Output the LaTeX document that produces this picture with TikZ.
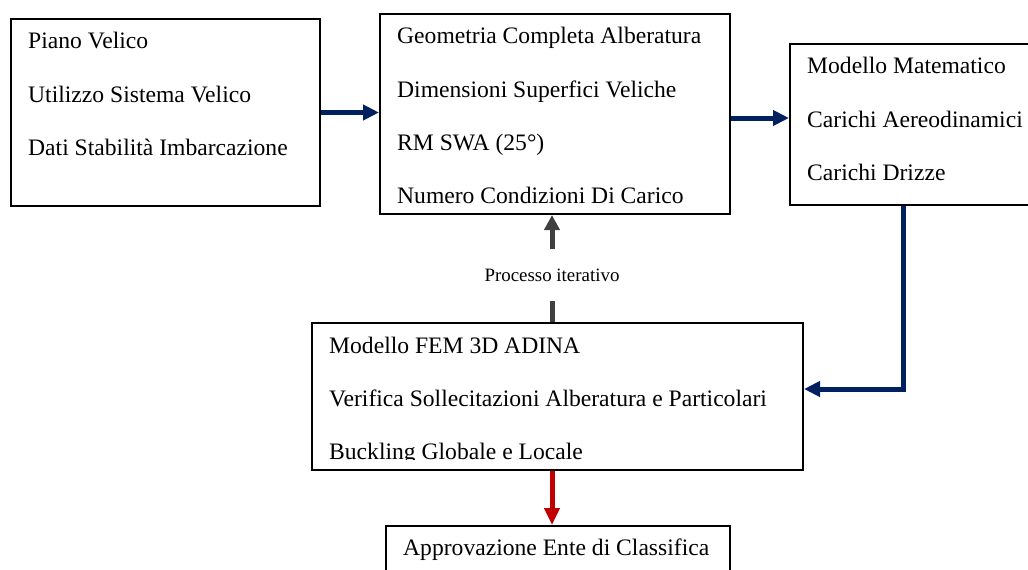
\documentclass[tikz,border=0pt]{standalone}
\usepackage{fontspec}
\setmainfont{Liberation Serif}
\usetikzlibrary{arrows.meta}
\definecolor{navyflow}{HTML}{002060}
\definecolor{iterflow}{HTML}{404040}
\definecolor{approvalflow}{HTML}{C00000}
\tikzset{
  box/.style={draw=black, line width=2pt, fill=white, anchor=north west, inner sep=0pt},
  txt/.style={anchor=base west, inner sep=0pt, font=\fontsize{23.6}{28}\selectfont},
  lbltxt/.style={inner sep=0pt, font=\fontsize{18.9}{22}\selectfont},
  flow/.style={line width=5pt, -{Triangle[length=16pt,width=15pt]}},
  navyflowline/.style={flow, draw=navyflow},
}
\begin{document}
\begin{tikzpicture}[x=1pt,y=-1pt]
\useasboundingbox (0,0) rectangle (1028,570);
\clip (0,0) rectangle (1028,570);
\fill[white] (0,0) rectangle (1028,570);

% boxes
\node[box, minimum width=309pt, minimum height=187pt] (inputs) at (10,18) {};
\node[box, minimum width=350pt, minimum height=200pt] (geom) at (379,13) {};
\node[box, minimum width=260pt, minimum height=161pt] (model) at (789,43) {};
\node[box, minimum width=491pt, minimum height=147pt] (fem) at (311,322) {};
\node[box, minimum width=344pt, minimum height=70pt] (appr) at (385,525) {};

% box texts
\node[txt] (in1) at (28,48) {Piano Velico};
\node[txt] (in2) at (28,102) {Utilizzo Sistema Velico};
\node[txt] (in3) at (28,155) {Dati Stabilità Imbarcazione};

\node[txt] (ge1) at (397,43) {Geometria Completa Alberatura};
\node[txt] (ge2) at (397,97) {Dimensioni Superfici Veliche};
\node[txt] (ge3) at (397,150) {RM SWA (25°)};
\node[txt] (ge4) at (397,203) {Numero Condizioni Di Carico};

\node[txt] (mo1) at (807,73) {Modello Matematico};
\node[txt] (mo2) at (807,127) {Carichi Aereodinamici};
\node[txt] (mo3) at (807,180) {Carichi Drizze};

\node[txt] (fe1) at (329,353) {Modello FEM 3D ADINA};
\node[txt] (fe2) at (329,406) {Verifica Sollecitazioni Alberatura e Particolari};
\begin{scope}
  \clip (312,323) rectangle (801,459);
  \node[txt] (fe3) at (329,459) {Buckling Globale e Locale};
\end{scope}

\node[txt] (ap1) at (403,555) {Approvazione Ente di Classifica};

% iteration label, its height spans the gap between the two arrow pieces
\node[lbltxt, minimum height=52pt] (iter) at (552,275) {Processo iterativo};

% connectors
\draw[navyflowline] (inputs.east) -- (inputs.east -| geom.west);
\draw[navyflowline] ([yshift=-4pt]geom.east) -- ([yshift=-4pt]geom.east -| model.west);
\draw[navyflowline] ([xshift=114pt]model.south west) |- ([yshift=7.5pt]fem.east);

\draw[line width=5pt, draw=iterflow, -{Triangle[length=15pt,width=15pt]}]
  (iter.north) -- (iter.north |- geom.south);
\draw[line width=5pt, draw=iterflow] (iter.south |- fem.north) -- (iter.south);

\draw[line width=5pt, draw=approvalflow, -{Triangle[length=17pt,width=15pt]}]
  (iter.south |- fem.south) -- (iter.south |- appr.north);
\end{tikzpicture}
\end{document}
